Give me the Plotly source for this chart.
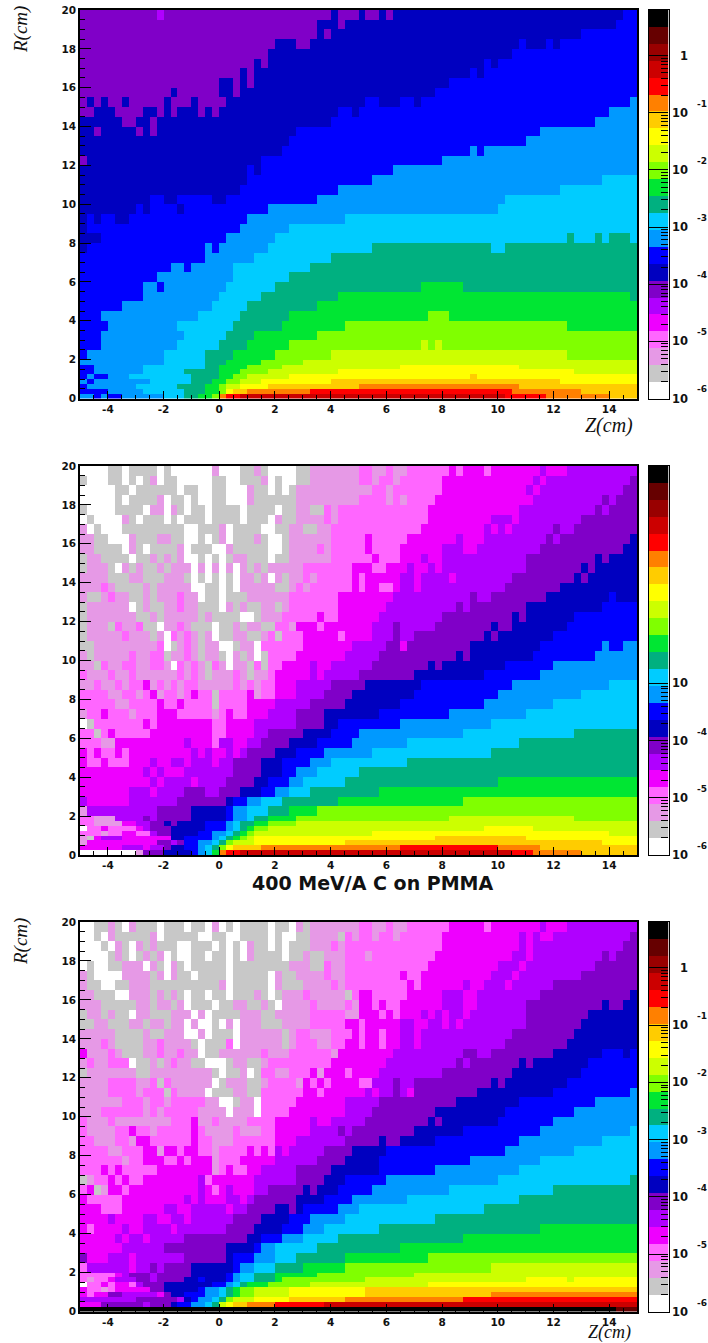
import plotly.graph_objects as go

W, H = 708, 1343

# colour levels of the palette, bottom to top of the colour bar
LEVEL_CODES = "0123456789abcdefghijklm"
LEVEL_COLORS = ["#ffffff", "#c8c8c8", "#e699e6", "#ff66ff", "#ee00ff", "#b000ff", "#8000c8", "#0000c0",
                "#0000ff", "#0099ff", "#00ccff", "#00b080", "#00e633", "#80ff00", "#ccff00", "#ffff00",
                "#ffcc00", "#ff8000", "#ff0000", "#cc0000", "#990000", "#660000", "#000000"]

# R rows from R=20 downwards
R_EDGES = [20 - 0.5 * i for i in range(37)] + [1.75, 1.5, 1.25, 1.0, 0.75, 0.5, 0.25, 0.0]
Z_EDGES = [-5 + 0.25 * i for i in range(81)]

# each row: "level:end-column" runs (80 columns of 0.25 cm)
PANEL_1 = [
"6:11 5:12 6:36 7:37 6:40 7:41 6:43 7:44 6:45 7:78 8:80",
"6:34 7:37 6:38 7:77 8:80",
"6:34 7:35 6:36 7:72 8:80",
"6:28 7:31 6:33 7:63 8:64 7:67 8:68 7:69 8:80",
"6:27 7:62 8:80",
"6:25 7:26 6:27 7:58 8:59 7:60 8:80",
"6:23 7:24 6:25 7:56 8:57 7:58 8:80",
"6:20 7:22 6:23 7:24 6:25 7:53 8:80",
"6:13 7:14 6:20 7:22 6:23 7:51 8:80",
"6:1 7:2 6:3 7:4 6:6 7:7 6:12 7:13 6:16 7:17 6:21 7:41 8:43 7:46 8:48 7:49 8:79 9:80",
"6:2 7:5 6:9 7:11 6:12 7:13 6:14 7:17 6:18 7:19 6:20 7:37 8:39 7:40 8:76 9:80",
"7:6 6:8 7:10 6:11 7:36 8:74 9:80",
"7:2 6:3 7:8 6:9 7:10 6:11 7:31 8:66 9:80",
"7:30 8:64 9:80",
"7:29 8:56 9:57 8:58 9:80",
"6:1 7:26 8:52 9:80",
"7:24 8:25 7:26 8:45 9:80",
"7:24 8:42 9:75 a:80",
"7:23 8:37 9:69 a:80",
"7:10 8:12 7:14 8:19 7:21 8:34 9:61 a:80",
"7:8 8:9 7:10 8:14 7:15 8:27 9:60 a:80",
"7:1 8:2 7:3 8:5 7:7 8:24 9:38 a:80",
"7:1 8:23 9:30 a:80",
"7:3 8:21 9:28 a:70 b:71 a:74 b:75 a:76 b:79 a:80",
"7:1 8:18 9:19 8:20 9:27 a:42 b:59 a:61 b:80",
"8:18 9:25 a:36 b:80",
"8:13 9:15 8:16 9:22 a:33 b:80",
"8:11 9:22 a:30 b:80",
"8:9 9:11 8:12 9:21 a:28 b:49 c:55 b:80",
"8:9 9:20 a:26 b:37 c:79 b:80",
"8:6 9:19 a:24 b:34 c:80",
"8:3 9:17 a:23 b:30 c:50 d:53 c:80",
"8:4 9:14 a:22 b:29 c:38 d:70 c:80",
"8:3 9:15 a:21 b:25 c:34 d:80",
"8:3 9:14 a:20 b:24 c:30 d:49 e:50 d:51 e:52 d:80",
"8:1 9:12 a:18 b:22 c:28 d:36 e:70 d:80",
"9:12 a:18 b:21 c:26 d:32 e:80",
"8:2 9:9 a:18 b:20 c:24 d:29 e:46 f:63 e:80",
"8:2 9:9 a:15 b:20 c:23 d:27 e:37 f:71 e:80",
"8:1 9:2 8:4 9:7 a:16 b:20 c:22 d:24 e:30 f:56 g:57 f:80",
"9:1 8:2 9:10 a:16 b:19 c:21 d:23 e:26 f:36 g:69 f:80",
"8:1 9:8 a:14 b:18 c:20 d:21 e:23 f:27 g:40 h:63 g:80",
"8:4 9:9 a:15 b:18 c:20 d:21 f:22 g:24 h:33 i:62 h:72 g:80",
"9:2 8:3 9:4 8:6 9:12 a:15 b:17 c:19 d:20 h:21 i:23 j:61 i:67 h:76 g:80",
]

PANEL_2 = [
"0:4 1:6 0:7 1:11 0:12 1:13 0:19 2:20 0:23 1:25 2:26 1:27 0:31 1:33 2:40 3:42 2:44 3:45 2:47 3:53 4:54 3:55 4:58 3:59 4:66 5:67 4:70 5:80",
"1:1 0:4 1:6 0:7 1:8 0:9 1:10 2:11 0:12 1:14 0:19 1:21 0:23 1:26 2:27 0:28 1:29 0:31 1:33 2:40 3:42 2:43 3:45 2:46 3:52 4:65 5:66 4:67 5:79 6:80",
"0:5 1:7 0:8 1:14 0:15 1:17 0:19 1:21 0:24 2:25 1:27 0:28 1:29 0:30 1:31 2:42 3:44 2:45 3:52 4:64 5:65 4:66 5:78 6:80",
"0:5 1:6 0:7 1:11 2:12 0:13 1:15 0:16 1:17 0:19 1:21 0:24 2:25 1:31 2:40 3:44 2:45 3:46 2:47 3:51 4:65 5:75 6:76 5:77 6:80",
"1:1 0:5 1:9 0:10 2:12 0:13 2:14 1:15 0:16 1:18 0:19 1:23 0:24 1:28 0:29 1:31 2:33 1:35 3:36 2:37 3:50 4:63 5:74 6:75 5:76 6:80",
"0:1 1:2 0:6 2:7 1:8 0:9 1:12 0:13 1:14 0:15 1:18 0:19 1:23 0:24 1:27 0:28 2:29 1:31 2:35 3:36 2:37 3:50 4:59 5:62 4:63 5:72 6:80",
"2:1 0:2 1:3 0:6 1:15 0:17 1:20 2:21 0:22 1:26 0:28 1:30 2:32 1:34 2:36 3:49 4:58 5:59 4:60 5:61 4:62 5:68 6:69 5:71 6:80",
"2:2 1:4 0:7 2:8 1:11 2:13 1:15 0:17 1:18 0:19 1:20 2:21 0:22 1:25 2:26 1:27 0:29 1:30 2:36 3:41 4:42 3:47 4:54 5:55 4:58 5:67 6:68 5:69 6:79 7:80",
"2:2 1:6 0:7 2:8 1:9 0:10 1:14 2:15 0:16 1:19 0:21 2:22 1:27 0:29 1:30 2:34 3:35 2:36 3:41 4:42 3:46 4:52 5:55 4:57 5:66 6:78 7:80",
"1:1 2:3 1:7 0:8 1:10 2:11 1:12 2:13 1:14 2:15 0:17 1:18 0:19 1:20 0:21 1:22 2:24 1:27 0:28 1:30 2:36 3:42 4:43 3:46 4:49 5:50 4:52 5:64 6:74 7:75 6:76 7:80",
"1:1 2:4 1:5 0:6 2:7 1:8 2:9 1:11 2:12 1:13 2:16 0:17 2:18 0:19 2:20 0:21 2:22 0:23 2:24 1:25 2:26 1:27 2:32 3:39 4:42 3:44 4:47 5:48 4:50 5:51 4:52 5:64 6:72 7:73 6:74 7:80",
"2:4 1:7 2:9 1:12 2:15 1:16 0:17 1:18 0:19 1:20 0:21 1:22 0:23 2:25 1:26 2:27 0:28 2:29 1:30 2:32 3:33 2:34 3:39 4:40 3:41 4:46 5:48 4:49 5:53 4:54 5:62 6:71 7:72 6:73 7:80",
"2:3 3:4 2:5 1:9 2:10 1:11 2:16 0:18 1:20 0:21 1:22 0:23 2:28 1:30 2:31 3:32 2:33 3:39 4:40 3:41 4:43 3:45 4:46 5:48 4:49 5:61 6:69 7:80",
"2:1 1:3 2:4 3:5 2:7 1:9 2:10 1:11 2:14 3:15 2:17 0:18 1:20 0:21 1:24 2:30 3:37 4:45 5:56 6:57 5:59 6:67 7:76 8:77 7:80",
"1:1 2:7 0:8 1:9 2:10 1:12 2:14 3:15 2:17 1:20 0:21 2:22 1:23 2:24 1:26 2:28 1:29 2:30 3:37 4:44 5:54 6:55 5:56 6:64 7:75 8:80",
"1:1 2:8 1:10 2:11 1:12 2:17 1:18 2:19 1:23 0:25 1:26 2:29 3:34 4:35 3:37 4:43 5:52 6:62 7:63 6:64 7:71 8:80",
"1:1 2:4 1:5 3:6 2:8 3:9 1:11 0:12 2:14 3:15 2:16 1:19 0:20 1:22 2:23 1:24 2:26 1:28 3:30 2:31 4:34 3:35 4:42 5:45 6:46 5:51 6:59 7:60 6:62 7:70 8:80",
"1:1 2:6 3:7 2:10 1:11 2:12 0:13 3:14 2:15 3:16 2:17 1:18 2:19 0:20 1:22 2:24 1:26 2:27 3:28 1:29 3:32 4:37 3:38 4:42 5:45 6:46 5:48 6:58 7:59 6:60 7:68 8:80",
"1:2 2:11 3:12 0:13 1:14 2:15 3:16 2:17 1:18 2:20 0:22 1:23 2:25 0:26 3:32 4:39 5:44 6:46 4:47 6:56 7:66 8:75 9:76 8:78 9:80",
"2:1 1:2 2:7 3:8 2:10 3:12 1:13 2:15 3:16 2:17 1:18 2:20 1:21 0:22 2:23 1:24 2:25 0:26 1:27 3:31 4:38 5:43 6:54 7:55 6:56 7:65 8:74 9:80",
"2:2 1:3 3:4 2:6 3:8 2:10 3:12 2:13 0:14 3:15 2:16 3:17 2:18 1:19 3:20 2:21 0:22 2:24 1:25 3:26 1:27 3:29 4:33 5:34 4:36 5:42 6:50 7:51 6:52 7:61 8:68 9:80",
"3:1 2:4 3:5 2:7 3:8 2:14 3:15 2:16 3:17 2:18 1:19 2:22 3:23 2:24 1:25 2:27 3:28 4:33 5:34 4:35 5:40 6:48 7:58 8:66 9:80",
"2:2 3:3 2:5 3:6 2:7 3:9 4:10 2:11 3:12 2:13 3:14 2:15 3:17 2:22 3:23 2:24 3:25 2:26 3:28 4:31 5:36 6:41 7:49 8:62 9:76 a:80",
"3:4 2:6 3:8 2:9 3:10 4:11 2:12 3:14 2:15 3:16 4:17 3:19 1:20 3:24 4:25 2:26 3:28 4:31 5:35 6:39 7:48 8:60 9:72 a:80",
"3:5 2:7 3:11 4:12 3:14 4:15 3:19 1:20 3:24 4:28 5:33 6:38 7:46 8:58 9:68 a:80",
"2:1 3:3 4:4 3:7 2:8 3:11 4:14 3:19 2:20 3:21 4:22 3:24 4:27 5:31 6:35 7:43 8:53 9:64 a:80",
"0:1 1:2 3:9 4:10 3:11 4:19 3:21 4:25 5:31 6:35 7:37 8:46 9:59 a:80",
"3:2 1:3 3:4 4:5 3:10 4:19 3:21 4:25 5:27 6:32 7:36 8:40 9:55 a:71 b:80",
"3:3 2:5 4:15 5:16 4:19 3:20 5:22 4:24 5:26 6:30 7:34 8:39 9:47 a:63 b:80",
"4:1 3:2 4:3 3:5 4:6 3:7 4:16 5:17 4:18 5:19 4:21 5:22 4:23 5:24 6:28 7:31 8:35 9:42 a:59 b:80",
"4:1 3:3 4:4 3:7 4:10 5:11 4:13 5:15 4:16 5:19 4:20 5:22 6:26 7:29 8:33 9:36 a:47 b:80",
"4:9 5:10 4:11 5:12 4:15 5:22 6:26 7:29 8:31 9:34 a:40 b:80",
"4:10 5:11 4:12 5:16 4:17 5:21 6:25 7:27 8:30 9:32 a:38 b:60 c:80",
"4:7 5:10 4:11 5:15 6:18 5:20 6:23 7:26 8:28 9:30 a:33 b:43 c:80",
"5:1 4:7 5:14 6:21 7:22 8:24 9:26 a:29 b:37 c:55 d:80",
"2:1 5:11 6:16 7:21 8:22 9:24 a:27 b:30 c:34 d:80",
"3:2 2:5 5:9 6:10 5:11 6:16 7:21 8:22 9:24 a:25 b:27 c:31 d:53 e:71 d:80",
"3:2 2:6 4:8 5:10 6:12 7:13 6:14 7:18 8:21 9:22 a:23 b:25 c:27 d:31 e:80",
"0:1 3:3 4:4 3:8 4:9 5:10 6:13 7:18 8:21 9:22 a:23 b:24 c:25 d:27 e:58 f:65 e:80",
"3:3 2:4 3:6 4:8 3:10 5:11 6:13 7:17 8:19 9:21 a:22 b:23 c:24 d:25 e:42 f:76 e:80",
"2:1 1:2 4:3 5:6 4:13 7:15 8:19 9:20 a:21 b:22 c:23 d:24 e:25 f:51 g:64 f:80",
"2:1 4:11 6:13 5:14 6:15 8:17 9:19 a:20 b:21 d:22 e:25 f:38 g:75 f:80",
"4:6 5:9 4:10 5:12 6:13 7:15 8:17 9:18 a:19 b:20 d:21 f:22 g:26 h:46 i:60 h:66 g:80",
"0:8 2:9 6:12 7:16 8:17 9:18 a:19 c:20 h:21 i:23 j:62 i:65 h:72 g:80",
]

PANEL_3 = [
"0:2 1:4 2:5 1:6 0:7 2:8 1:11 0:12 1:15 0:16 1:18 0:19 2:20 0:21 1:22 0:23 1:27 0:28 1:30 0:31 2:32 1:33 2:40 3:42 2:44 3:45 2:47 3:53 4:58 3:59 4:66 5:67 4:70 5:80",
"0:2 1:3 0:4 2:5 1:10 2:11 0:12 1:17 0:19 1:21 0:23 1:27 0:28 1:29 0:31 1:33 2:37 1:38 3:39 2:40 3:42 2:43 3:45 2:46 3:52 4:63 5:64 4:65 5:66 4:68 5:79 6:80",
"0:3 1:4 0:5 2:6 1:7 0:8 2:9 1:10 2:11 1:14 0:16 1:19 0:20 1:21 0:22 1:23 0:24 2:25 1:27 0:28 1:29 0:30 1:33 2:36 3:37 2:38 3:52 4:63 5:64 4:65 5:78 6:80",
"0:4 1:5 2:6 1:7 0:8 1:9 2:10 1:11 2:12 0:13 1:14 0:16 1:18 0:19 1:21 0:22 1:23 0:24 2:25 1:29 0:30 1:32 2:33 1:35 2:38 3:41 2:42 3:51 4:62 5:64 4:65 5:75 6:76 5:77 6:80",
"0:1 1:2 0:4 1:6 2:9 0:10 2:11 1:12 0:13 2:14 1:15 0:16 1:21 0:22 1:30 2:33 1:35 3:36 2:38 3:50 4:60 5:63 4:64 5:74 6:80",
"2:1 1:2 0:6 2:10 1:11 2:12 0:13 2:14 1:16 0:17 1:21 0:22 1:27 0:28 2:29 1:31 2:35 3:36 2:38 3:46 4:47 3:49 4:59 5:62 4:63 5:72 6:80",
"2:1 1:3 0:5 1:7 2:10 1:20 2:21 0:22 1:27 0:28 2:29 1:32 2:36 3:37 2:38 3:47 4:48 3:49 4:55 5:56 4:58 5:61 4:62 5:68 6:71 6:80",
"2:2 1:5 0:7 2:10 1:11 2:12 1:13 2:14 1:15 0:16 1:18 0:19 1:21 0:22 1:25 2:26 1:27 0:28 1:29 2:32 3:33 2:38 1:39 3:40 4:42 3:47 4:52 5:55 4:57 5:66 6:79 7:80",
"2:3 1:8 2:10 1:11 2:13 1:14 2:15 0:16 1:19 0:20 1:22 2:24 1:26 2:27 1:28 0:29 2:33 3:34 2:38 3:39 2:40 4:42 3:43 4:44 3:46 4:52 5:55 4:57 5:64 6:75 7:76 6:78 7:80",
"1:1 2:3 1:4 2:5 1:7 0:8 2:10 1:13 2:16 0:17 2:18 0:19 1:23 2:26 1:28 2:33 3:38 2:40 4:43 3:44 4:45 3:46 4:49 5:50 4:51 5:52 4:53 5:55 4:56 5:64 6:73 7:80",
"1:2 2:4 1:7 2:9 1:10 2:12 1:13 2:15 0:16 2:17 0:19 1:20 0:21 2:22 0:23 2:26 1:29 2:33 3:38 4:40 3:41 4:46 5:48 4:50 5:52 4:53 5:54 4:55 5:64 6:72 7:80",
"2:5 1:9 2:10 1:12 2:15 0:17 2:18 0:19 1:22 0:23 2:29 1:30 2:31 3:33 2:36 3:39 4:40 3:41 4:43 3:44 4:46 5:48 4:49 5:62 6:71 7:80",
"2:3 3:4 2:5 1:9 2:11 3:12 2:16 1:17 0:18 1:21 3:22 0:23 2:29 1:30 2:31 3:34 2:36 3:38 4:40 3:41 4:43 3:44 4:46 5:48 4:49 5:61 6:70 7:80",
"4:1 2:4 3:5 2:6 1:9 2:11 3:12 2:14 3:15 2:17 0:18 1:20 2:26 3:27 2:30 3:36 2:37 4:45 5:55 6:57 5:59 6:68 7:75 8:78 7:79 8:80",
"2:1 3:2 2:4 3:7 0:8 1:10 2:11 1:12 2:13 3:14 2:16 1:18 0:21 1:22 2:24 1:26 2:27 3:36 4:44 5:54 6:55 5:56 6:63 7:64 6:65 7:73 8:80",
"1:1 2:8 1:10 2:19 1:20 0:21 1:23 2:24 0:25 1:26 3:28 2:30 3:33 4:34 2:35 4:38 3:39 4:43 5:52 6:62 7:72 8:80",
"2:4 3:8 2:10 3:11 1:12 3:13 2:19 0:20 1:21 2:24 1:26 2:27 3:31 2:32 4:33 3:34 4:35 3:36 4:40 3:42 5:45 6:46 5:48 6:59 7:60 6:61 7:70 8:80",
"2:4 3:8 2:9 3:12 1:13 3:14 2:18 0:19 1:22 2:24 1:26 3:32 4:34 3:35 4:41 5:42 4:43 5:45 6:46 5:47 4:48 6:57 7:68 8:79 9:80",
"2:6 3:9 2:10 3:12 2:13 3:18 2:20 0:22 1:23 2:25 0:26 3:31 4:38 5:43 6:54 7:63 8:74 9:80",
"2:3 3:9 2:10 3:11 2:12 3:17 2:21 0:22 2:25 0:26 3:30 4:38 5:42 6:51 7:61 8:71 9:80",
"3:1 2:4 3:5 2:13 3:16 4:17 2:19 3:20 2:24 3:28 4:33 5:34 4:36 5:41 6:50 7:51 6:52 7:60 8:68 9:80",
"3:1 2:5 3:7 4:8 3:10 2:11 3:16 4:17 3:18 2:22 3:23 2:26 3:28 4:33 5:37 6:38 5:39 6:48 7:55 8:66 9:79 a:80",
"3:2 2:5 3:7 2:8 4:10 3:16 4:17 3:19 2:22 3:28 4:31 5:38 6:43 7:44 6:46 7:51 8:63 9:75 a:80",
"3:4 2:6 3:9 4:11 2:12 4:14 3:15 4:17 3:19 2:20 3:24 4:25 3:26 4:27 3:28 5:29 4:30 5:35 6:39 7:44 8:61 9:71 a:80",
"3:6 2:7 3:9 4:12 3:14 4:15 3:16 4:19 2:20 3:23 4:28 5:34 6:38 7:43 8:56 9:66 a:80",
"3:3 4:4 3:5 4:6 3:11 4:19 2:20 3:21 4:22 3:24 4:26 5:31 6:36 7:43 8:51 9:63 a:80",
"1:1 2:2 3:4 4:5 3:6 4:7 3:9 4:17 5:18 3:19 4:25 5:31 6:35 7:38 8:44 9:60 a:79 b:80",
"3:1 4:2 1:3 2:4 4:6 3:7 4:17 5:18 4:19 3:20 4:21 5:22 4:25 5:27 6:32 7:33 6:34 7:37 8:42 9:53 a:68 b:80",
"4:1 3:6 4:15 5:16 4:17 5:18 4:21 5:23 4:24 5:25 6:31 7:35 8:39 9:47 a:63 b:80",
"4:3 3:6 4:12 5:14 4:16 5:21 4:22 5:24 6:28 7:30 6:31 7:32 8:37 9:40 a:58 b:80",
"4:4 5:5 4:9 5:11 4:13 5:15 4:16 5:22 6:26 7:30 8:33 9:38 a:51 b:80",
"4:1 3:2 4:6 5:7 4:9 5:13 4:14 5:21 6:25 7:29 8:32 9:35 a:43 b:66 c:80",
"4:5 5:6 4:7 5:9 4:10 5:15 6:19 6:24 7:26 8:29 9:32 a:37 b:55 c:80",
"4:6 5:12 6:14 6:21 7:25 8:26 9:28 a:34 b:46 c:80",
"6:1 4:4 5:7 4:8 5:15 6:21 7:22 8:25 9:28 a:31 b:38 c:50 d:80",
"3:1 5:7 4:8 5:10 6:11 5:12 6:16 7:22 8:23 9:25 a:28 b:32 c:38 d:59 e:80",
"3:5 4:6 5:7 6:8 6:10 5:11 6:16 7:21 8:22 9:23 a:25 b:28 c:34 d:48 e:80",
"3:1 2:2 3:4 4:5 5:8 6:10 5:11 6:15 7:17 8:18 7:21 8:22 9:23 a:25 b:28 c:29 d:41 e:64 f:70 e:71 f:80",
"0:1 3:3 4:4 3:5 4:7 3:8 5:9 6:12 7:19 8:21 9:22 a:23 b:24 c:27 d:33 e:50 f:80",
"4:1 3:3 2:4 3:5 4:10 6:12 7:17 8:18 9:20 a:21 b:22 c:23 d:25 e:30 f:41 g:80",
"4:1 3:2 4:4 6:6 5:11 4:12 6:13 7:15 8:18 9:20 a:21 b:22 c:23 d:25 e:30 f:41 g:59 h:80",
"5:8 6:14 5:15 7:16 8:17 9:19 a:20 b:21 d:22 e:25 f:30 g:38 h:55 i:80",
"4:3 6:9 5:10 6:13 7:14 8:16 9:18 a:19 b:20 e:21 f:22 g:24 h:28 i:35 j:80",
"m:77 l:78 m:78 l:80",
]

X_TICKS = [-4, -2, 0, 2, 4, 6, 8, 10, 12, 14]
Y_TICKS = [0, 2, 4, 6, 8, 10, 12, 14, 16, 18, 20]
BAR_BOTTOM, BAR_TOP = -6.0, 0.8
DECADES_FULL = [-6, -5, -4, -3, -2, -1, 0]
DECADES_CUT = [-6, -5, -4, -3]
MINOR_FACTORS = [0.30103, 0.47712, 0.60206, 0.69897, 0.77815, 0.84510, 0.90309, 0.95424]


def decode(rows):
    out = []
    for row in rows:
        cells, cur = [], 0
        for run in row.split():
            code, end = run.split(":")
            end = int(end)
            if end > cur:
                cells += [LEVEL_CODES.index(code) + 0.5] * (end - cur)
                cur = end
        cells += [cells[-1]] * (80 - cur)
        out.append(cells[:80])
    return out[::-1]


n = len(LEVEL_COLORS)
colorscale = []
for i, c in enumerate(LEVEL_COLORS):
    colorscale += [[i / n, c], [(i + 1) / n, c]]

PANELS = [(PANEL_1, 10, 398.5, DECADES_FULL, {-5, -4, -3, -2, -1, -6}),
          (PANEL_2, 466, 855, DECADES_CUT, {-6, -5, -4}),
          (PANEL_3, 922, 1311.5, DECADES_FULL, {-6, -5, -4, -3, -2, -1})]

fig = go.Figure()
layout = dict(width=W, height=H, margin=dict(l=0, r=0, t=0, b=0, autoexpand=False), paper_bgcolor="white",
              plot_bgcolor="white", showlegend=False, annotations=[])
tick_font = dict(family="DejaVu Sans", size=10.5, color="#111111", weight="bold")
y_edges_up = R_EDGES[::-1]
bar_edges = [BAR_BOTTOM + i * (BAR_TOP - BAR_BOTTOM) / n for i in range(n + 1)]

for p, (rows, top, bottom, decades, exps) in enumerate(PANELS):
    a = 2 * p + 1
    b = 2 * p + 2
    xa, ya = ("x" if a == 1 else f"x{a}"), ("y" if a == 1 else f"y{a}")
    xb, yb = f"x{b}", f"y{b}"
    dom_y = [1 - bottom / H, 1 - top / H]
    fig.add_trace(go.Heatmap(z=decode(rows), x=Z_EDGES, y=y_edges_up, xaxis=xa, yaxis=ya,
                             colorscale=colorscale, zmin=0, zmax=n, showscale=False, hoverinfo="skip"))
    fig.add_trace(go.Heatmap(z=[[i + 0.5] for i in range(n)], x=[0, 1], y=bar_edges, xaxis=xb, yaxis=yb,
                             colorscale=colorscale, zmin=0, zmax=n, showscale=False, hoverinfo="skip"))
    layout["xaxis" if a == 1 else f"xaxis{a}"] = dict(
        domain=[80 / W, 637 / W], range=[-5, 15], anchor=ya, tickmode="array", tickvals=X_TICKS,
        ticktext=[str(v) for v in X_TICKS], ticks="inside", ticklen=8, tickwidth=1.2, tickcolor="black",
        minor=dict(tickmode="array", tickvals=[-5 + 0.5 * i for i in range(41)], ticks="inside",
                   ticklen=4, tickwidth=1, tickcolor="black"),
        showline=True, linecolor="black", linewidth=1.5, mirror=True, showgrid=False, zeroline=False,
        tickfont=tick_font)
    layout["yaxis" if a == 1 else f"yaxis{a}"] = dict(
        domain=dom_y, range=[0, 20], anchor=xa, tickmode="array", tickvals=Y_TICKS,
        ticktext=[str(v) for v in Y_TICKS], ticks="inside", ticklen=11, tickwidth=1.2, tickcolor="black",
        minor=dict(tickmode="array", tickvals=[0.5 * i for i in range(41)], ticks="inside",
                   ticklen=5, tickwidth=1, tickcolor="black"),
        showline=True, linecolor="black", linewidth=1.5, mirror=True, showgrid=False, zeroline=False,
        tickfont=tick_font)
    layout[f"xaxis{b}"] = dict(domain=[648.5 / W, 668.5 / W], range=[0, 1], anchor=yb, showticklabels=False,
                               ticks="", showline=True, linecolor="black", linewidth=1.2, mirror=True,
                               showgrid=False, zeroline=False)
    minor_vals = [d + f for d in decades[:-1] for f in MINOR_FACTORS]
    layout[f"yaxis{b}"] = dict(
        domain=dom_y, range=[BAR_BOTTOM, BAR_TOP], anchor=xb, side="right", tickmode="array", tickvals=decades,
        ticktext=["\u00a0\u00a01" if d == 0 else "10" for d in decades], ticks="inside", ticklen=20,
        tickwidth=1, tickcolor="black",
        minor=dict(tickmode="array", tickvals=minor_vals, ticks="inside", ticklen=7, tickwidth=1, tickcolor="black"),
        showline=True, linecolor="black", linewidth=1.2, mirror=True, showgrid=False, zeroline=False,
        tickfont=dict(family="DejaVu Sans", size=11.5, color="#111111", weight="bold"))
    for d in decades:
        if d in exps:
            layout["annotations"].append(dict(
                text=str(d), xref=xb, yref=yb, x=1, y=d, xshift=33, yshift=9, showarrow=False,
                xanchor="center", yanchor="middle",
                font=dict(family="DejaVu Sans", size=9, color="#111111", weight="bold")))


def label(text, x, y, family, size, angle=0, italic=False, weight="normal"):
    layout["annotations"].append(dict(
        text=text, xref="paper", yref="paper", x=x / W, y=1 - y / H, showarrow=False,
        xanchor="center", yanchor="middle", textangle=angle,
        font=dict(family=family, size=size, color="#111111", style="italic" if italic else "normal", weight=weight)))


label("R(cm)", 21, 30, "Liberation Serif", 19, angle=-90, italic=True)
label("R(cm)", 21, 942, "Liberation Serif", 19, angle=-90, italic=True)
label("Z(cm)", 609, 426, "Liberation Serif", 20, italic=True)
label("Z(cm)", 609, 1332.5, "Liberation Serif", 18, italic=True)
label("400 MeV/A C on PMMA", 373, 883, "DejaVu Sans", 19, weight="bold")

fig.update_layout(**layout)
fig.write_html("out.html", config={"displayModeBar": False},
               post_script="document.body.style.margin='0';document.body.style.overflow='hidden';")
